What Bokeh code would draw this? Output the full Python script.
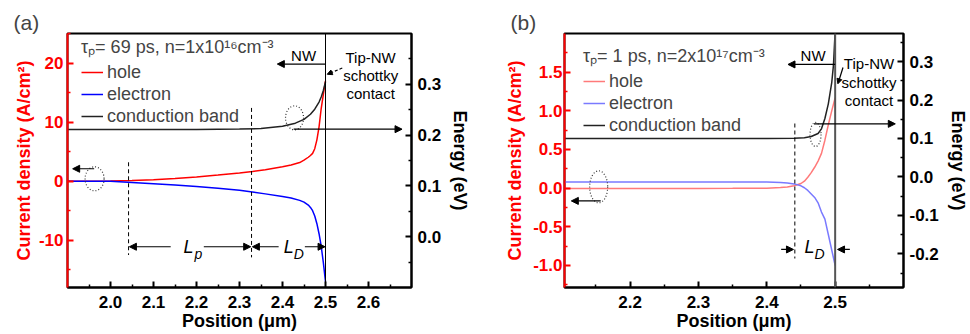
from bokeh.plotting import figure
from bokeh.models import (Range1d, LinearAxis, FixedTicker, Span, Arrow, NormalHead,
                          Label, Legend, LegendItem, PrintfTickFormatter, Title)
from bokeh.layouts import row
from bokeh.embed import file_html
from bokeh.resources import INLINE

FONT = "Liberation Sans"

# ---------------- panel (a) data ----------------
pos_a = [1.90, 1.95, 2.00, 2.05, 2.10, 2.15, 2.20, 2.25, 2.30, 2.33, 2.36, 2.40, 2.42, 2.44,
         2.45, 2.46, 2.465, 2.47, 2.475, 2.48, 2.485, 2.49, 2.495, 2.50]
hole_a = [0.0, 0.0, 0.02, 0.1, 0.25, 0.45, 0.72, 1.03, 1.4, 1.65, 1.95, 2.45, 2.75, 3.15,
          3.55, 4.05, 4.35, 4.7, 5.5, 7.0, 9.2, 12.3, 14.7, 17.0]
electron_a = [0.0, 0.0, -0.03, -0.22, -0.42, -0.65, -0.92, -1.2, -1.55, -1.85, -2.15, -2.6, -2.85, -3.25,
              -3.55, -4.05, -4.45, -5.0, -5.9, -7.2, -8.9, -11.0, -13.8, -17.0]
cb_pos_a = [1.90, 2.00, 2.10, 2.20, 2.30, 2.35, 2.40, 2.43, 2.45, 2.465, 2.475, 2.485, 2.49, 2.495, 2.50]
cb_a = [0.211, 0.211, 0.211, 0.2112, 0.2118, 0.213, 0.2175, 0.2235, 0.231, 0.241, 0.251, 0.265,
        0.275, 0.288, 0.305]

# ---------------- panel (b) data ----------------
pos_b = [2.10, 2.20, 2.30, 2.35, 2.40, 2.42, 2.43, 2.44, 2.45, 2.455, 2.46, 2.465, 2.47, 2.475,
         2.48, 2.485, 2.49, 2.495, 2.50]
hole_b = [-0.005, -0.005, -0.005, -0.003, 0.0, 0.008, 0.015, 0.03, 0.06, 0.09, 0.14, 0.2, 0.27, 0.35,
          0.45, 0.62, 0.82, 1.0, 1.17]
electron_b = [0.08, 0.08, 0.08, 0.08, 0.078, 0.074, 0.068, 0.055, 0.03, 0.005, -0.03, -0.075, -0.12, -0.19,
              -0.31, -0.4, -0.6, -0.8, -1.0]
cb_pos_b = [2.10, 2.20, 2.30, 2.40, 2.44, 2.455, 2.465, 2.475, 2.48, 2.485, 2.49, 2.495, 2.4975, 2.50]
cb_b = [0.1, 0.1, 0.1, 0.1, 0.1005, 0.102, 0.105, 0.113, 0.125, 0.152, 0.19, 0.245, 0.29, 0.38]

# ---------------- ticks ----------------
xticks_a = [2.0, 2.1, 2.2, 2.3, 2.4, 2.5, 2.6]
xminor_a = [1.95, 2.05, 2.15, 2.25, 2.35, 2.45, 2.55, 2.65]
yticks_a = [-10, 0, 10, 20]
yminor_a = [-15, -5, 5, 15, 25]
eticks_a = [0.0, 0.1, 0.2, 0.3]
eminor_a = [-0.05, 0.05, 0.15, 0.25, 0.35]

xticks_b = [2.2, 2.3, 2.4, 2.5]
xminor_b = [2.15, 2.25, 2.35, 2.45, 2.55]
yticks_b = [-1.0, -0.5, 0.0, 0.5, 1.0, 1.5]
yminor_b = [-1.25, -0.75, -0.25, 0.25, 0.75, 1.25, 1.75]
eticks_b = [-0.2, -0.1, 0.0, 0.1, 0.2, 0.3]
eminor_b = [-0.25, -0.15, -0.05, 0.05, 0.15, 0.25, 0.35]

# ---------------- annotation positions ----------------
dash_x_a = [2.042, 2.328]
dash_top_a = [3.2, 12.4]
dash_bot_a = [-12.5, -12.9]
dim_y_a = -11.1
dash_x_b = [2.441]
dash_top_b = [0.836]
dash_bot_b = [-0.91]

X_LABEL = "Position (\u03bcm)"
Y_LABEL = "Current density (A/cm\u00b2)"
E_LABEL = "Energy (eV)"


def style_axis(ax, color, standoff, fmt, label, label_standoff):
    ax.major_label_text_font = FONT
    ax.major_label_text_font_size = "17px"
    ax.major_label_text_font_style = "bold"
    ax.major_label_text_color = color
    ax.major_label_standoff = standoff
    ax.axis_line_color = color
    ax.axis_line_width = 2
    ax.major_tick_line_color = color
    ax.major_tick_line_width = 2
    ax.major_tick_in = 6
    ax.major_tick_out = 0
    ax.minor_tick_line_color = color
    ax.minor_tick_line_width = 1.5
    ax.minor_tick_in = 3
    ax.minor_tick_out = 0
    ax.formatter = PrintfTickFormatter(format=fmt)
    ax.axis_label = label
    ax.axis_label_text_font = FONT
    ax.axis_label_text_font_size = "18px"
    ax.axis_label_text_font_style = "bold"
    ax.axis_label_text_color = color
    ax.axis_label_standoff = label_standoff


def text(p, x, y, t, size="15px", style="normal", align="left", baseline="middle",
         xo=0, yo=0, lh=1.2):
    p.add_layout(Label(x=x, y=y, text=t, text_font=FONT, text_font_size=size,
                       text_font_style=style, text_align=align, text_baseline=baseline,
                       x_offset=xo, y_offset=yo, text_color="black", text_line_height=lh))


def make_fig(xr, yr, er, width, bl, br, xt, xm, yt, ym, et, em, yfmt,
             yl_standoff, ylab_standoff, panel):
    p = figure(width=width, height=334, x_range=Range1d(*xr), y_range=Range1d(*yr),
               output_backend="svg", toolbar_location=None,
               min_border_left=bl, min_border_right=br, min_border_top=33, min_border_bottom=47)
    p.title = Title(text=panel, align="left", offset=-54, standoff=0,
                    text_font=FONT, text_font_size="21px", text_font_style="normal")
    p.extra_y_ranges = {"energy": Range1d(*er)}
    p.grid.visible = False
    p.outline_line_color = "black"
    p.outline_line_width = 2
    p.background_fill_color = "white"
    p.border_fill_color = "white"
    xa = p.xaxis[0]
    xa.ticker = FixedTicker(ticks=xt, minor_ticks=xm)
    style_axis(xa, "black", 8, "%.1f", X_LABEL, 0)
    ya = p.yaxis[0]
    ya.ticker = FixedTicker(ticks=yt, minor_ticks=ym)
    style_axis(ya, "#ff0000", yl_standoff, yfmt, Y_LABEL, ylab_standoff)
    ra = LinearAxis(y_range_name="energy", ticker=FixedTicker(ticks=et, minor_ticks=em))
    style_axis(ra, "black", 6, "%.1f", E_LABEL, 6)
    p.add_layout(ra, "right")
    return p


def head(size=7):
    return NormalHead(size=size, fill_color="black", line_color="black", line_width=1)


def arrow(p, x0, y0, x1, y1, energy=False, dash="solid", size=7):
    kw = dict(x_start=x0, y_start=y0, x_end=x1, y_end=y1, end=head(size),
              line_color="black", line_width=1.2, line_dash=dash)
    if energy:
        kw["y_range_name"] = "energy"
    p.add_layout(Arrow(**kw))


def legend(p, rh, re, rc, title, loc):
    leg = Legend(items=[LegendItem(label="hole", renderers=[rh]),
                        LegendItem(label="electron", renderers=[re]),
                        LegendItem(label="conduction band", renderers=[rc])],
                 location=loc, title=title,
                 title_text_font=FONT, title_text_font_size="18px", title_text_font_style="normal",
                 title_standoff=3,
                 label_text_font=FONT, label_text_font_size="18px",
                 glyph_width=22, glyph_height=22, label_height=22, label_standoff=4,
                 spacing=0, padding=0, margin=0,
                 border_line_alpha=0, background_fill_alpha=0)
    p.add_layout(leg)


# ================= panel (a) =================
pa = make_fig((1.9, 2.7), (-18, 25), (-0.1, 0.4), 485, 67, 74,
              xticks_a, xminor_a, yticks_a, yminor_a, eticks_a, eminor_a, "%.0f", 4, 2, "(a)")
pa.add_layout(Span(location=2.5, dimension="height", line_color="black", line_width=1))
rh = pa.line(pos_a, hole_a, line_color="#ff0000", line_width=1.5)
re = pa.line(pos_a, electron_a, line_color="#0000ff", line_width=1.5)
rc = pa.line(cb_pos_a, cb_a, line_color="#222222", line_width=1.5, y_range_name="energy")
legend(pa, rh, re, rc, "\u03c4\u209a= 69 ps, n=1x10\u00b9\u2076cm\u207b\u00b3", (14, 160))

pa.segment(x0=dash_x_a, y0=dash_top_a, x1=dash_x_a, y1=dash_bot_a,
           line_color="black", line_width=1, line_dash="4 3")
pa.ellipse(x=[1.963], y=[0.4], width=19, height=24, width_units="screen", height_units="screen",
           fill_alpha=0, line_color="#333333", line_width=1.2, line_dash="1 2")
pa.ellipse(x=[2.428], y=[0.234], width=18, height=24, width_units="screen", height_units="screen",
           fill_alpha=0, line_color="#333333", line_width=1.2, line_dash="1 2", y_range_name="energy")
arrow(pa, 1.962, 2.1, 1.912, 2.1)
arrow(pa, 2.426, 0.2117, 2.678, 0.2117, energy=True)
arrow(pa, 2.5, 19.83, 2.388, 19.83)
arrow(pa, 2.539, 19.15, 2.504, 18.1, dash="3 2", size=5)
arrow(pa, 2.14, dim_y_a, 2.044, dim_y_a)
arrow(pa, 2.217, dim_y_a, 2.326, dim_y_a)
arrow(pa, 2.391, dim_y_a, 2.330, dim_y_a)
arrow(pa, 2.452, dim_y_a, 2.499, dim_y_a)
text(pa, 2.449, 21.2, "NW", size="15px", align="center")
text(pa, 2.605, 17.85, "Tip-NW\nschottky\ncontact", size="15px", align="center", lh=1.05)
text(pa, 2.17, -11.15, "L", size="18px", style="italic")
text(pa, 2.17, -11.15, "p", size="14px", style="italic", xo=11, yo=-7)
text(pa, 2.403, -11.15, "L", size="18px", style="italic")
text(pa, 2.403, -11.15, "D", size="14px", style="italic", xo=10, yo=-7)

# ================= panel (b) =================
pb = make_fig((2.104, 2.6), (-1.285, 2.0), (-0.2876, 0.373), 485, 79, 61,
              xticks_b, xminor_b, yticks_b, yminor_b, eticks_b, eminor_b, "%.1f", 2, 5, "(b)")
pb.add_layout(Span(location=2.5, dimension="height", line_color="#555555", line_width=2))
rh2 = pb.line(pos_b, hole_b, line_color="#ff7a7a", line_width=1.5)
re2 = pb.line(pos_b, electron_b, line_color="#7a7aff", line_width=1.5)
rc2 = pb.line(cb_pos_b, cb_b, line_color="#222222", line_width=1.5, y_range_name="energy")
legend(pb, rh2, re2, rc2, "\u03c4\u209a= 1 ps, n=2x10\u00b9\u2077cm\u207b\u00b3", (19, 151))

pb.segment(x0=dash_x_b, y0=dash_top_b, x1=dash_x_b, y1=dash_bot_b,
           line_color="black", line_width=1, line_dash="4 3")
pb.ellipse(x=[2.154], y=[0.017], width=18, height=32, width_units="screen", height_units="screen",
           fill_alpha=0, line_color="#333333", line_width=1.2, line_dash="1 2")
pb.ellipse(x=[2.4713], y=[0.1104], width=11, height=24, width_units="screen", height_units="screen",
           fill_alpha=0, line_color="#333333", line_width=1.2, line_dash="1 2", y_range_name="energy")
arrow(pb, 2.157, -0.165, 2.114, -0.165)
arrow(pb, 2.469, 0.138, 2.588, 0.138, energy=True)
arrow(pb, 2.5, 1.6, 2.431, 1.6)
arrow(pb, 2.5115, 1.56, 2.504, 1.35, size=5)
arrow(pb, 2.421, -0.793, 2.439, -0.793)
arrow(pb, 2.5215, -0.793, 2.5035, -0.793)
text(pb, 2.4677, 1.716, "NW", size="15px", align="center")
text(pb, 2.5495, 1.371, "Tip-NW\nschottky\ncontact", size="15px", align="center", lh=1.1)
text(pb, 2.455, -0.767, "L", size="18px", style="italic")
text(pb, 2.455, -0.767, "D", size="14px", style="italic", xo=10, yo=-7)

layout = row(pa, pb)
open("out.html", "w").write(file_html(layout, INLINE))
